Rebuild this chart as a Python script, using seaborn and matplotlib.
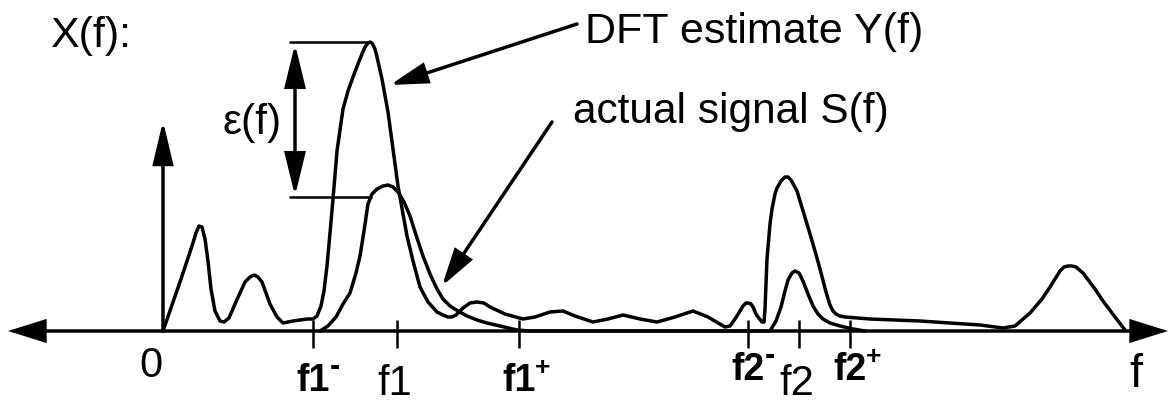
import matplotlib
matplotlib.use("Agg")
import matplotlib.pyplot as plt
from matplotlib.patches import FancyArrowPatch
from matplotlib import font_manager
import seaborn as sns

# DFT estimate Y(f): frequency position and magnitude above the f axis
dft_f = [163, 181, 192, 196, 199, 202, 205, 208, 211, 215, 220, 224, 229, 235, 245, 250,
         254, 258, 262, 270, 277, 283, 293, 307, 313, 317, 321, 324, 327, 330, 333, 337,
         343, 348, 353, 358, 362, 365, 368, 370, 372, 375, 377, 382, 388, 393, 398, 403,
         407, 413, 420, 428, 437, 443, 448, 452, 456, 463, 470, 477, 484, 490, 505, 523,
         535, 550, 563, 575, 593, 608, 623, 640, 657, 675, 693, 708, 725, 730, 735, 740,
         743, 746, 748, 751, 753, 756, 758, 762, 764, 765, 767, 770, 772, 775, 777, 781,
         785, 788, 791, 797, 807, 815, 820, 826, 830, 833, 836, 840, 845, 870, 920, 980,
         1003, 1015, 1030, 1042, 1050, 1060, 1064, 1068, 1072, 1076, 1083, 1095, 1103,
         1115, 1125]
dft_amp = [0, 52, 85, 98, 105, 104, 92, 70, 42, 20, 10, 9, 13, 27, 49, 54,
           56, 54, 49, 27, 14, 8, 10, 12, 12, 15, 25, 40, 65, 98, 132, 180,
           222, 240, 254, 267, 277, 284, 288, 289, 288, 282, 274, 252, 219, 182, 145, 117,
           95, 70, 44, 29, 19, 16, 14, 14, 16, 23, 28, 29, 28, 24, 17, 12,
           14, 19, 20, 15, 9, 12, 16, 12, 9, 14, 20, 14, 4, 5, 12, 20,
           25, 28, 28, 27, 24, 17, 14, 9, 9, 22, 72, 107, 122, 137, 143, 150,
           154, 154, 151, 140, 107, 80, 62, 39, 26, 20, 17, 15, 14, 12, 10, 6,
           3, 5, 18, 32, 44, 60, 64, 65, 65, 64, 58, 42, 30,
           14, 1]

# actual signal S(f)
sig_f = [320, 328, 336, 343, 350, 356, 360, 364, 368, 372, 377, 383, 388, 393, 398, 404,
         410, 416, 423, 430, 437, 443, 450, 458, 467, 477, 487, 500, 517, 530,
         770, 776, 781, 785, 788, 792, 795, 799, 803, 808, 813, 818, 823, 830, 840, 853, 865]
sig_amp = [0, 5, 14, 27, 38, 58, 75, 100, 127, 137, 142, 145, 146, 144, 139, 129,
           115, 96, 75, 57, 42, 32, 25, 20, 15, 11, 8, 5, 1, 0,
           0, 10, 24, 40, 51, 58, 60, 58, 50, 37, 25, 17, 12, 8, 5, 2, 0]

# marked frequencies on the f axis
tick_f = [313, 397, 519, 748, 799, 850]
tick_names = ["f1", "f1", "f1", "f2", "f2", "f2"]
tick_signs = ["-", "", "+", "-", "", "+"]
tick_base = [-59, -63, -59, -48, -63, -48]

# error between the DFT peak and the true peak
peak_dft = 289
peak_sig = 134

sns.set_theme(style="white")
names = {f.name for f in font_manager.fontManager.ttflist}
sans = "Liberation Sans" if "Liberation Sans" in names else "DejaVu Sans"
narrow = "Liberation Sans Narrow" if "Liberation Sans Narrow" in names else sans
plt.rcParams["font.family"] = [sans, "DejaVu Sans"]
plt.rcParams["text.color"] = "black"

fig = plt.figure(figsize=(11.72, 4.02), dpi=100)
ax = fig.add_axes([0, 0, 1, 1])
ax.set_xlim(0, 1172)
ax.set_ylim(-70, 332)
ax.set_axis_off()

lw = 2.5
line_kw = dict(sort=False, estimator=None, color="black", linewidth=lw,
               solid_joinstyle="round", solid_capstyle="round", ax=ax)
sns.lineplot(x=dft_f, y=dft_amp, **line_kw)
sns.lineplot(x=sig_f, y=sig_amp, **line_kw)


def arrow(p0, p1, style, scale=14):
    a = FancyArrowPatch(p0, p1, arrowstyle=style, mutation_scale=scale,
                        color="black", linewidth=lw, shrinkA=0, shrinkB=0,
                        joinstyle="miter")
    ax.add_patch(a)


# f axis (two-sided) and magnitude axis
arrow((8, 0), (1168, 0), "<|-|>,head_length=1.6,head_width=0.5")
arrow((163, 0), (163, 210), "-|>,head_length=1.85,head_width=0.44")

# tick marks
ax.vlines(tick_f, -17, 11, color="black", linewidth=1.8)

# epsilon bracket
ax.hlines([peak_dft, peak_sig], 289, [370, 372], color="black", linewidth=1.8)
arrow((295, peak_sig + 1), (295, peak_dft - 2),
      "<|-|>,head_length=1.85,head_width=0.45")
ax.text(223, 198, "\u03b5(f)", fontsize=30.5, ha="left", va="baseline")

# callouts
arrow((577, 307), (390, 246), "-|>,head_length=1.6,head_width=0.45")
arrow((552, 209), (442, 45), "-|>,head_length=1.6,head_width=0.45")
ax.text(585, 289, "DFT estimate Y(f)", fontsize=31, ha="left", va="baseline")
ax.text(573, 209, "actual signal S(f)", fontsize=30.5, ha="left", va="baseline")
ax.text(50, 285, "X(f):", fontsize=31, ha="left", va="baseline")

# axis labels
ax.text(151, -45, "0", fontsize=30, ha="center", va="baseline")
ax.text(1136, -55, "f", fontsize=34, ha="center", va="baseline")
for x, name, sign, base in zip(tick_f, tick_names, tick_signs, tick_base):
    if sign:
        t = ax.text(x - 17, base, name, fontsize=27, fontweight="bold",
                    family=[narrow, sans], ha="left", va="baseline")
        ax.annotate(sign, xy=(1, 1), xycoords=t,
                    xytext=(0, 5 if sign == "+" else 8),
                    textcoords="offset points", ha="left", va="top",
                    fontsize=19 if sign == "+" else 22, fontweight="bold",
                    family=[sans])
    else:
        ax.text(x - 2, base, name, fontsize=30, ha="center", va="baseline")

fig.savefig("out.png", dpi=100, facecolor="white")
